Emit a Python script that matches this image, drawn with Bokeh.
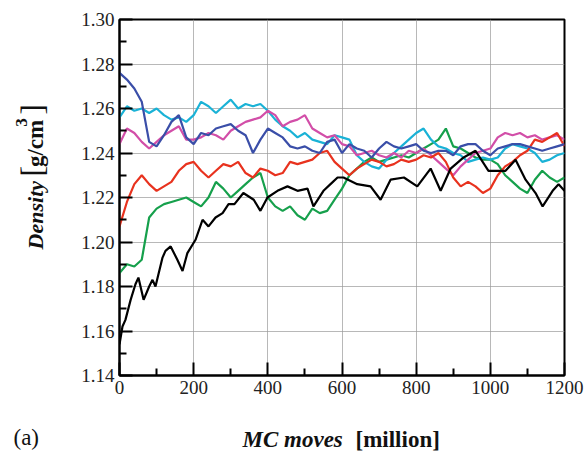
import math
from bokeh.plotting import figure
from bokeh.layouts import column, row
from bokeh.models import Range1d, FixedTicker, PrintfTickFormatter
from bokeh.core.properties import value
from bokeh.embed import file_html
from bokeh.resources import INLINE

# Monte Carlo moves (million) sampled every 20 million
moves = list(range(0, 1201, 20))

# Density traces [g/cm^3] for the six runs
density_blue = [1.276, 1.273, 1.269, 1.263, 1.245, 1.243, 1.248, 1.254, 1.257, 1.247,
                1.244, 1.249, 1.248, 1.251, 1.252, 1.253, 1.250, 1.248, 1.240, 1.246,
                1.251, 1.249, 1.247, 1.243, 1.242, 1.243, 1.241, 1.240, 1.245, 1.246,
                1.240, 1.244, 1.242, 1.241, 1.238, 1.242, 1.245, 1.243, 1.242, 1.243,
                1.244, 1.241, 1.240, 1.241, 1.241, 1.239, 1.243, 1.244, 1.244, 1.241,
                1.239, 1.242, 1.243, 1.244, 1.244, 1.243, 1.242, 1.241, 1.242, 1.243,
                1.244]
density_cyan = [1.256, 1.261, 1.259, 1.260, 1.258, 1.260, 1.257, 1.255, 1.256, 1.254,
                1.257, 1.263, 1.261, 1.258, 1.261, 1.264, 1.260, 1.262, 1.261, 1.262,
                1.259, 1.255, 1.252, 1.250, 1.247, 1.249, 1.246, 1.245, 1.244, 1.248,
                1.247, 1.246, 1.239, 1.236, 1.234, 1.233, 1.237, 1.240, 1.243, 1.246,
                1.249, 1.251, 1.246, 1.243, 1.242, 1.240, 1.239, 1.236, 1.237, 1.238,
                1.237, 1.238, 1.242, 1.244, 1.243, 1.242, 1.240, 1.236, 1.237, 1.239,
                1.240]
density_magenta = [1.244, 1.251, 1.249, 1.245, 1.242, 1.245, 1.248, 1.250, 1.252, 1.246,
                   1.246, 1.247, 1.249, 1.248, 1.246, 1.250, 1.252, 1.254, 1.255, 1.256,
                   1.259, 1.257, 1.252, 1.254, 1.255, 1.257, 1.251, 1.249, 1.247, 1.248,
                   1.244, 1.243, 1.239, 1.240, 1.241, 1.239, 1.238, 1.240, 1.238, 1.241,
                   1.240, 1.242, 1.239, 1.236, 1.233, 1.230, 1.234, 1.237, 1.240, 1.241,
                   1.242, 1.247, 1.249, 1.248, 1.249, 1.247, 1.248, 1.246, 1.247, 1.248,
                   1.246]
density_red = [1.207, 1.218, 1.226, 1.230, 1.226, 1.223, 1.225, 1.227, 1.232, 1.235,
               1.236, 1.232, 1.229, 1.232, 1.235, 1.234, 1.236, 1.231, 1.229, 1.233,
               1.232, 1.230, 1.231, 1.236, 1.235, 1.236, 1.237, 1.240, 1.241, 1.236,
               1.233, 1.230, 1.233, 1.235, 1.237, 1.236, 1.234, 1.235, 1.237, 1.236,
               1.237, 1.239, 1.238, 1.240, 1.236, 1.229, 1.225, 1.227, 1.225, 1.222,
               1.224, 1.230, 1.234, 1.236, 1.239, 1.241, 1.246, 1.245, 1.247, 1.249,
               1.243]
density_green = [1.186, 1.190, 1.189, 1.192, 1.211, 1.215, 1.217, 1.218, 1.219, 1.220,
                 1.218, 1.216, 1.220, 1.227, 1.224, 1.220, 1.223, 1.226, 1.229, 1.231,
                 1.220, 1.216, 1.214, 1.216, 1.212, 1.210, 1.215, 1.213, 1.214, 1.219,
                 1.224, 1.230, 1.233, 1.236, 1.238, 1.236, 1.237, 1.238, 1.239, 1.238,
                 1.240, 1.242, 1.244, 1.246, 1.251, 1.243, 1.242, 1.240, 1.238, 1.237,
                 1.237, 1.235, 1.230, 1.227, 1.224, 1.222, 1.228, 1.232, 1.229, 1.227,
                 1.229]

# The black run is sampled more finely where it climbs quickly
moves_black = [0, 8, 16, 30, 43, 51, 65, 80, 89, 97,
               116, 124, 138, 156, 170, 183, 205, 224, 240, 259,
               278, 294, 310, 334, 362, 380, 399, 426, 453, 480,
               507, 523, 550, 569, 588, 604, 641, 677, 704, 731,
               767, 803, 839, 866, 893, 928, 960, 995, 1041, 1068,
               1095, 1122, 1141, 1168, 1184, 1200]
density_black = [1.154, 1.162, 1.165, 1.174, 1.181, 1.184, 1.174, 1.180, 1.183, 1.180,
                 1.193, 1.196, 1.198, 1.192, 1.187, 1.195, 1.201, 1.210, 1.207, 1.211,
                 1.213, 1.217, 1.217, 1.222, 1.219, 1.214, 1.220, 1.223, 1.225, 1.223,
                 1.224, 1.216, 1.223, 1.226, 1.229, 1.229, 1.226, 1.225, 1.219, 1.228,
                 1.229, 1.225, 1.233, 1.223, 1.233, 1.238, 1.241, 1.232, 1.232, 1.237,
                 1.228, 1.222, 1.216, 1.223, 1.226, 1.223]

x_major = [0, 200, 400, 600, 800, 1000, 1200]
x_minor = [100, 300, 500, 700, 900, 1100]
y_major = [1.14, 1.16, 1.18, 1.20, 1.22, 1.24, 1.26, 1.28, 1.30]
y_minor = [1.15, 1.17, 1.19, 1.21, 1.23, 1.25, 1.27, 1.29]

SERIF = "Liberation Serif"
INK = "#111111"

# ---- main plot -------------------------------------------------------------
p = figure(width=537, height=415, output_backend="svg", toolbar_location=None,
           x_range=Range1d(0, 1200), y_range=Range1d(1.14, 1.30),
           min_border_left=69, min_border_right=23, min_border_top=19,
           min_border_bottom=40)
p.outline_line_color = "black"
p.outline_line_width = 2

for ax in (p.xaxis[0], p.yaxis[0]):
    ax.axis_line_width = 2
    ax.major_tick_in = 13
    ax.major_tick_out = 0
    ax.minor_tick_in = 7
    ax.minor_tick_out = 0
    ax.major_tick_line_width = 2
    ax.minor_tick_line_width = 2
    ax.major_label_text_font = SERIF
    ax.major_label_text_font_size = "19px"
    ax.major_label_text_color = "#222222"

p.xaxis.ticker = FixedTicker(ticks=x_major, minor_ticks=x_minor)
p.yaxis.ticker = FixedTicker(ticks=y_major, minor_ticks=y_minor)
p.yaxis.formatter = PrintfTickFormatter(format="%.2f")

# fine grey grid at the major ticks
p.grid.grid_line_color = "#9a9a9a"
p.grid.grid_line_alpha = 0.7
p.grid.grid_line_width = 1

lw = 2.2
p.line(moves, density_green, line_color="#16a04c", line_width=lw)
p.line(moves, density_cyan, line_color="#1ab2d6", line_width=lw)
p.line(moves, density_magenta, line_color="#d24ea8", line_width=lw)
p.line(moves, density_red, line_color="#e8321e", line_width=lw)
p.line(moves_black, density_black, line_color="black", line_width=lw)
p.line(moves, density_blue, line_color="#3a4ea8", line_width=lw)


def text_panel(w, h):
    """A bare figure whose data units are pixels, used to hold axis titles."""
    f = figure(width=w, height=h, output_backend="svg", toolbar_location=None,
               title=None, x_range=Range1d(0, w), y_range=Range1d(0, h),
               x_axis_location=None, y_axis_location=None,
               min_border=0, outline_line_color=None)
    f.grid.visible = False
    return f


# ---- y title: Density [g/cm^3], reading upwards ------------------------------
yl = text_panel(50, 415)
up = math.pi / 2
yl.text(x=[35], y=[147], text=["Density"], angle=up, text_font=value(SERIF),
        text_font_style="bold italic", text_font_size="22px",
        text_baseline="alphabetic", text_align="left", text_color=INK)
yl.text(x=[31, 31], y=[232, 304], text=["[", "]"], angle=up, text_font=value(SERIF),
        text_font_size="32px", text_baseline="alphabetic", text_align="left",
        text_color=INK)
yl.text(x=[35], y=[243], text=["g/cm"], angle=up, text_font=value(SERIF),
        text_font_style="bold", text_font_size="23px",
        text_baseline="alphabetic", text_align="left", text_color=INK)
yl.text(x=[21], y=[290], text=["3"], angle=up, text_font=value(SERIF),
        text_font_style="bold", text_font_size="17px",
        text_baseline="alphabetic", text_align="left", text_color=INK)

# ---- x title and panel tag --------------------------------------------------
xl = text_panel(587, 39)
xl.text(x=[242], y=[15], text=["MC moves"], text_font=value(SERIF),
        text_font_style="bold italic", text_font_size="23px",
        text_baseline="alphabetic", text_align="left", text_color=INK)
xl.text(x=[355], y=[15], text=["[million]"], text_font=value(SERIF),
        text_font_style="bold", text_font_size="23px",
        text_baseline="alphabetic", text_align="left", text_color=INK)
xl.text(x=[13], y=[17], text=["(a)"], text_font=value(SERIF),
        text_font_size="23px", text_baseline="alphabetic",
        text_align="left", text_color=INK)

layout = column(row(yl, p, spacing=0), xl, spacing=0)

open("out.html", "w").write(file_html(layout, INLINE))
